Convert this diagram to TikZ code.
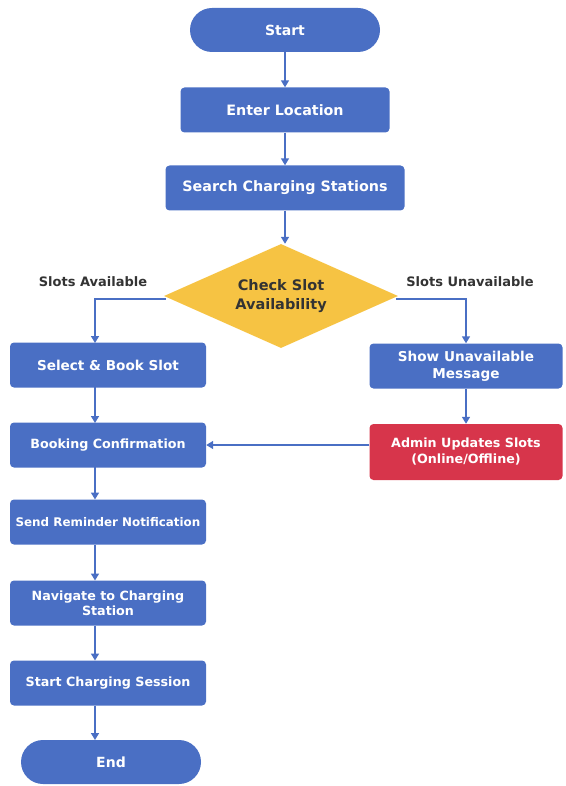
\documentclass[tikz,border=0pt]{standalone}
\usepackage{fontspec}
\setmainfont{DejaVu Sans}
\usetikzlibrary{shapes.geometric,arrows.meta}
\definecolor{boxblue}{HTML}{4A6FC4}
\definecolor{boxred}{HTML}{D7354B}
\definecolor{dgold}{HTML}{F6C343}
\definecolor{lbl}{HTML}{333333}
\tikzset{
  base/.style={fill=boxblue, text=white, font=\bfseries\fontsize{12.7}{15}\selectfont, align=center, inner sep=0pt, rounded corners=4pt},
  pbox/.style={base, minimum width=196pt, minimum height=45pt},
  term/.style={base, rounded corners=22pt, minimum height=44pt, font=\bfseries\fontsize{14}{16}\selectfont},
  conn/.style={draw=boxblue, line width=1.5pt, -{Triangle[length=7pt,width=8pt]}},
  lab/.style={text=lbl, font=\bfseries\fontsize{13}{15}\selectfont}
}
\begin{document}
\begin{tikzpicture}[x=1pt,y=-1pt]
\useasboundingbox (0,0) rectangle (565,786);
\node[term, minimum width=190pt] (start) at (285,30) {Start};
\node[pbox, minimum width=209pt, font=\bfseries\fontsize{14.3}{16}\selectfont] (loc) at (285,110) {Enter Location};
\node[pbox, minimum width=239pt, font=\bfseries\fontsize{14.3}{16}\selectfont] (search) at (285,188) {Search Charging Stations};
\node[diamond, fill=dgold, aspect=2.3, inner sep=0pt, minimum width=234pt, minimum height=104pt, align=center, text=lbl, font=\bfseries\fontsize{14.5}{19}\selectfont] (check) at (281,296) {Check Slot\\Availability};
\node[lab] (lav) at (93,282) {Slots Available};
\node[lab] (lun) at (470,282) {Slots Unavailable};
\node[pbox, font=\bfseries\fontsize{13.6}{16}\selectfont] (book) at (108,365) {Select \& Book Slot};
\node[pbox, minimum width=193pt, font=\bfseries\fontsize{13.6}{17}\selectfont] (unav) at (466,366) {Show Unavailable\\Message};
\node[pbox] (conf) at (108,445) {Booking Confirmation};
\node[pbox, fill=boxred, minimum width=193pt, minimum height=56pt, font=\bfseries\fontsize{12.7}{16}\selectfont] (admin) at (466,452) {Admin Updates Slots\\(Online/Offline)};
\node[pbox, font=\bfseries\fontsize{11.9}{14}\selectfont] (remind) at (108,522) {Send Reminder Notification};
\node[pbox, font=\bfseries\fontsize{12.7}{15}\selectfont] (nav) at (108,603) {Navigate to Charging\\Station};
\node[pbox] (charge) at (108,683) {Start Charging Session};
\node[term, minimum width=180pt] (finish) at (111,762) {End};
\draw[conn] (start) -- (loc);
\draw[conn] (loc) -- (search);
\draw[conn] (search.south) -- (check.north -| search.south);
\draw[conn] (check.west) ++(2,3) -| (95,343);
\draw[conn] (check.east) ++(-2,3) -| (unav.north);
\draw[conn] (95,387) -- (95,423);
\draw[conn] (unav) -- (admin);
\draw[conn] (admin.west |- conf.east) -- (conf.east);
\draw[conn] (95,467) -- (95,499.5);
\draw[conn] (95,544.5) -- (95,580.5);
\draw[conn] (95,625.5) -- (95,660.5);
\draw[conn] (95,705.5) -- (95,740);
\end{tikzpicture}
\end{document}
